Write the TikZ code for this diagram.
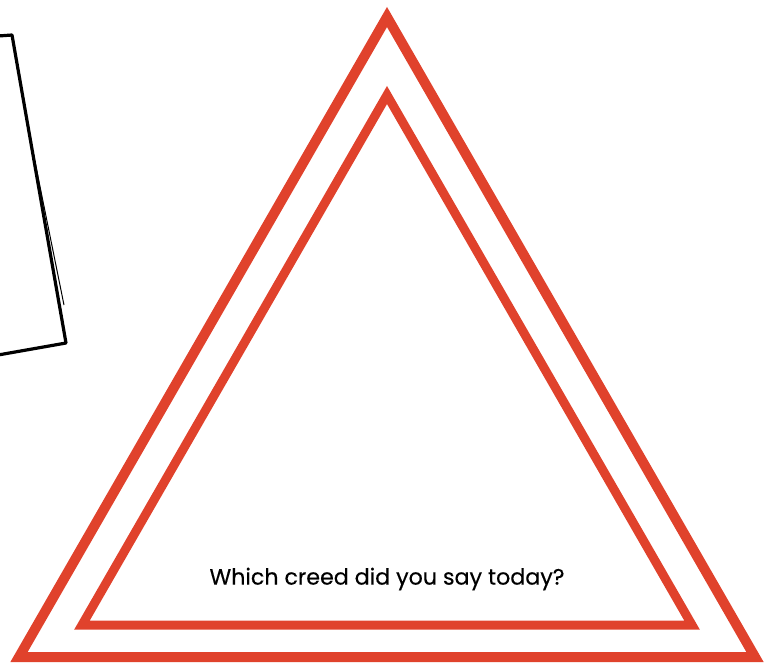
\documentclass[tikz,border=0pt]{standalone}
\usepackage{fontspec}
\setmainfont{Poppins}[FakeBold=0.4]
\usetikzlibrary{positioning}
\definecolor{creedred}{RGB}{224,66,44}

\begin{document}
\begin{tikzpicture}[x=1pt,y=-1pt,
    frame/.style={draw=creedred,line width=10pt,miter limit=4},
    sketch/.style={draw=black,line width=3.2pt,line cap=round,line join=round}]
  \useasboundingbox (0,0) rectangle (767,665);
  % outer and inner triangles
  \coordinate (top) at (387,17);
  \coordinate (bl) at (19,657);
  \coordinate (br) at (755,657);
  \draw[frame] (top) -- (bl) -- (br) -- cycle;
  \coordinate (itop) at (387,95);
  \coordinate (ibl) at (82,625);
  \coordinate (ibr) at (692,625);
  \draw[frame,line width=9pt] (itop) -- (ibl) -- (ibr) -- cycle;
  % sketched frame at the left
  \draw[sketch] (-2,36) -- (12,35) -- (66,343) -- (-2,355);
  \draw[black,line width=1pt] (33,152) -- (64,305);
  \node[font=\fontsize{22.2}{24}\selectfont] (question) at (387,579)
    {Which creed did you say today?};
\end{tikzpicture}
\end{document}
